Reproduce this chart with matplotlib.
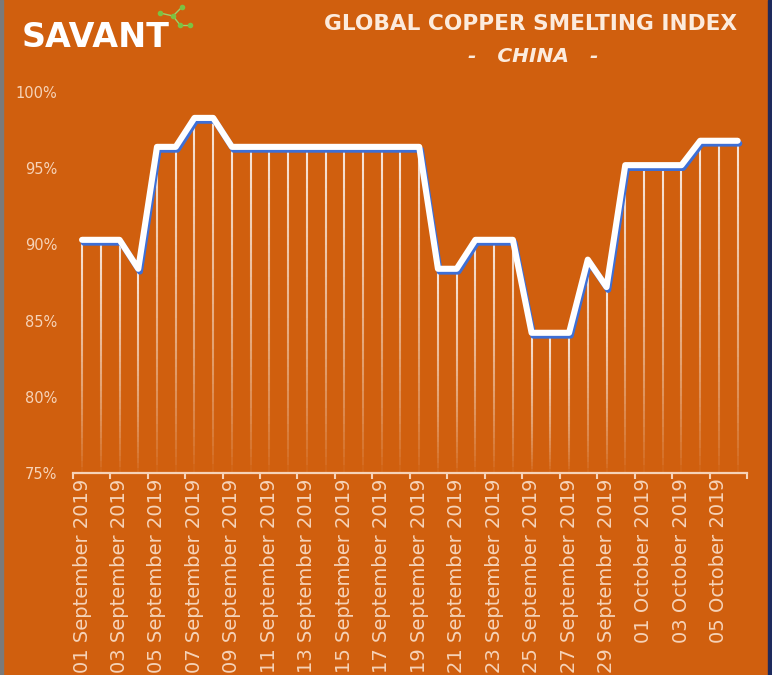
import matplotlib
matplotlib.use("Agg")
import matplotlib.pyplot as plt
import matplotlib.patheffects as pe
from matplotlib.collections import LineCollection
from matplotlib.lines import Line2D
from matplotlib.patches import Rectangle
import numpy as np
import pandas as pd

# indice journalier Chine (en %)
jours = pd.date_range("2019-09-01", "2019-10-06", freq="D")
etiquettes = [d.strftime("%d %B %Y") for d in jours]
valeurs = [90.3, 90.3, 90.3, 88.4, 96.4, 96.4, 98.3, 98.3,
           96.4, 96.4, 96.4, 96.4, 96.4, 96.4, 96.4, 96.4, 96.4, 96.4, 96.4,
           88.4, 88.4, 90.3, 90.3, 90.3, 84.2, 84.2, 84.2, 89.0, 87.2,
           95.2, 95.2, 95.2, 95.2, 96.8, 96.8, 96.8]
y_ticks = [75, 80, 85, 90, 95, 100]

fond = "#D05F0E"
peche = "#F6D3B8"
W, H = 772, 675

fig = plt.figure(figsize=(W / 100, H / 100), dpi=100, facecolor=fond)
ax = fig.add_axes([72.7 / W, 1 - 473 / H, (747 - 72.7) / W, (473 - 92) / H])
ax.set_facecolor(fond)

x = np.arange(len(valeurs))
ymin = y_ticks[0]

# lignes verticales en degrade
segs = []
couleurs = []
n = 40
for i, v in zip(x, valeurs):
    ys = np.linspace(ymin, v, n + 1)
    for k in range(n):
        segs.append([(i, ys[k]), (i, ys[k + 1])])
        t = (k + 0.5) / n
        couleurs.append((1, 1, 1, 0.85 * t ** 0.7))
lc = LineCollection(segs, colors=couleurs, linewidths=1.5, capstyle="butt", zorder=2)
ax.add_collection(lc)

# la courbe
ax.plot(x, valeurs, color="white", lw=4.4, solid_joinstyle="round",
        solid_capstyle="round", zorder=3, clip_on=False,
        path_effects=[pe.SimpleLineShadow(offset=(1.2, -2.0), shadow_color="#3D6FD6", alpha=1),
                      pe.Normal()])

ax.set_xlim(-0.5, len(valeurs) - 0.5)
ax.set_ylim(75, 100)

ax.set_yticks(y_ticks)
ax.set_yticklabels([f"{v}%" for v in y_ticks])
ax.tick_params(axis="y", length=0, pad=11, labelsize=10.5, labelcolor=peche)

ax.set_xticks(x[::2])
ax.set_xticklabels(etiquettes[::2], rotation=90)
ax.set_xticks(np.arange(-0.5, len(valeurs), 2), minor=True)
ax.tick_params(axis="x", which="major", length=0, pad=4, labelsize=14, labelcolor=peche)
ax.tick_params(axis="x", which="minor", length=4, width=1.5, color=peche, direction="out")

for s in ["left", "top", "right"]:
    ax.spines[s].set_visible(False)
ax.spines["bottom"].set_color(peche)
ax.spines["bottom"].set_linewidth(1.6)

# titre
fig.text(531 / W, 1 - 30 / H, "GLOBAL COPPER SMELTING INDEX", ha="center", va="baseline",
         fontsize=15.6, fontweight="bold", color="#FCEBDD")
fig.text(533 / W, 1 - 62 / H, "-   CHINA   -", ha="center", va="baseline",
         fontsize=14.5, fontweight="bold", fontstyle="italic", color="#FCEBDD")

# logo
fig.text(22 / W, 1 - 47 / H, "SAVANT", ha="left", va="baseline",
         fontsize=24, fontweight="bold", color="white")
pts = {"a": (160, 13), "b": (173, 16), "c": (182, 7), "d": (180, 25), "e": (190, 25)}
for p, q in [("a", "b"), ("b", "c"), ("b", "d"), ("d", "e")]:
    fig.add_artist(Line2D([pts[p][0] / W, pts[q][0] / W], [1 - pts[p][1] / H, 1 - pts[q][1] / H],
                          color="#9BD36A", lw=1.0, transform=fig.transFigure))
for px, py in pts.values():
    fig.add_artist(Line2D([px / W], [1 - py / H], marker="o", ms=3, color="#7CC242",
                          transform=fig.transFigure))

# bordures de la capture
fig.add_artist(Rectangle((0, 0), 3 / W, 1, color="#7A7A7A", transform=fig.transFigure))
fig.add_artist(Rectangle((768 / W, 0), 4 / W, 1, color="#1E2A5C", transform=fig.transFigure))

fig.savefig("out.png", dpi=100, facecolor=fond)
